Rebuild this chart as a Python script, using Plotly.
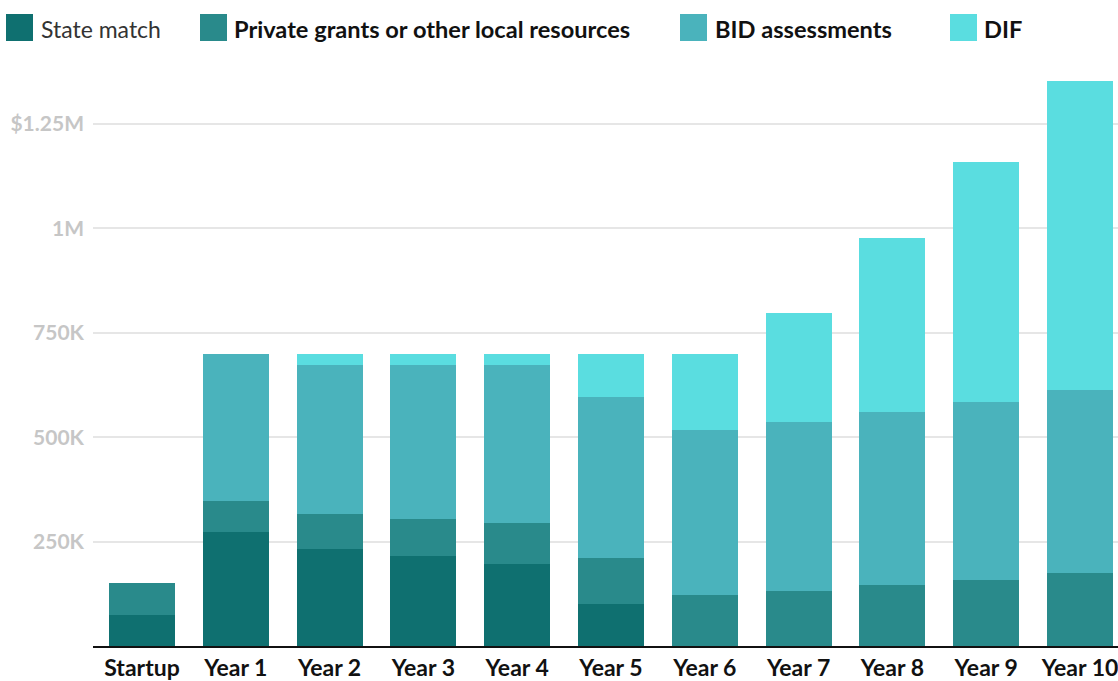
import plotly.graph_objects as go

# Funding sources by year, in dollars
periods = ["Startup", "Year 1", "Year 2", "Year 3", "Year 4", "Year 5",
           "Year 6", "Year 7", "Year 8", "Year 9", "Year 10"]
state_match = [75000, 273000, 232000, 215000, 196000, 100000, 0, 0, 0, 0, 0]
private_local = [75000, 74000, 84000, 89000, 98000, 111000, 122000, 132000, 146000, 158000, 175000]
bid_assessments = [0, 353000, 356000, 368000, 378000, 385000, 395000, 404000, 414000, 426000, 437000]
dif = [0, 0, 28000, 28000, 28000, 104000, 183000, 261000, 416000, 576000, 740000]

series_names = ["State match", "Private grants or other local resources", "BID assessments", "DIF"]
series_values = [state_match, private_local, bid_assessments, dif]
colors = ["#0f7070", "#298a8b", "#4ab3bc", "#5adde0"]

y_tickvals = [250000, 500000, 750000, 1000000, 1250000]
y_ticktext = ["250K", "500K", "750K", "1M", "$1.25M"]

FONT = "Lato, 'Source Sans Pro', sans-serif"

# Page geometry (pixels)
W, H = 1118, 681
ML, MR, MT, MB = 93, 0, 70, 35
PW, PH = W - ML - MR, H - MT - MB


def px_x(x):
    return (x - ML) / PW


def px_y(y):
    return (H - MB - y) / PH


fig = go.Figure()
for name, vals, col in zip(series_names, series_values, colors):
    fig.add_trace(go.Bar(x=periods, y=vals, name=name, marker=dict(color=col, line=dict(width=0)),
                         showlegend=False))

# Legend drawn as swatches + labels across the top
legend_swatches = [(6, 33), (200, 227), (680, 707), (950, 977)]
legend_text_x = [39, 232, 713, 982]
for i, name in enumerate(series_names):
    x0, x1 = legend_swatches[i]
    fig.add_shape(type="rect", xref="paper", yref="paper",
                  x0=px_x(x0), x1=px_x(x1), y0=px_y(41), y1=px_y(14),
                  fillcolor=colors[i], line=dict(width=0))
    if i == 0:
        label, size, col = name, 23, "#333333"
    else:
        label, size, col = f"<b>{name}</b>", 23.6, "#111111"
    fig.add_annotation(text=label, xref="paper", yref="paper",
                       x=px_x(legend_text_x[i]), y=px_y(29), xanchor="left", yanchor="middle",
                       showarrow=False, font=dict(family=FONT, size=size, color=col))

fig.update_layout(
    barmode="stack",
    bargap=0.296,
    width=W, height=H,
    margin=dict(l=ML, r=MR, t=MT, b=MB),
    paper_bgcolor="white",
    plot_bgcolor="white",
    font=dict(family=FONT),
    xaxis=dict(
        range=[-0.522, 10.405],
        automargin=False,
        showline=True, linecolor="#111111", linewidth=2,
        showgrid=False, ticks="",
        tickfont=dict(family=FONT, size=23, color="#111111", weight="bold"),
        fixedrange=True,
    ),
    yaxis=dict(
        range=[0, 1379300],
        automargin=False,
        tickvals=y_tickvals, ticktext=y_ticktext,
        showgrid=True, gridcolor="#e6e6e6", gridwidth=2,
        zeroline=False, showline=False, ticks="",
        ticklabelstandoff=8,
        tickfont=dict(family=FONT, size=21, color="#c6c6c6", weight="bold"),
        fixedrange=True,
    ),
)

fig.write_html("out.html")
